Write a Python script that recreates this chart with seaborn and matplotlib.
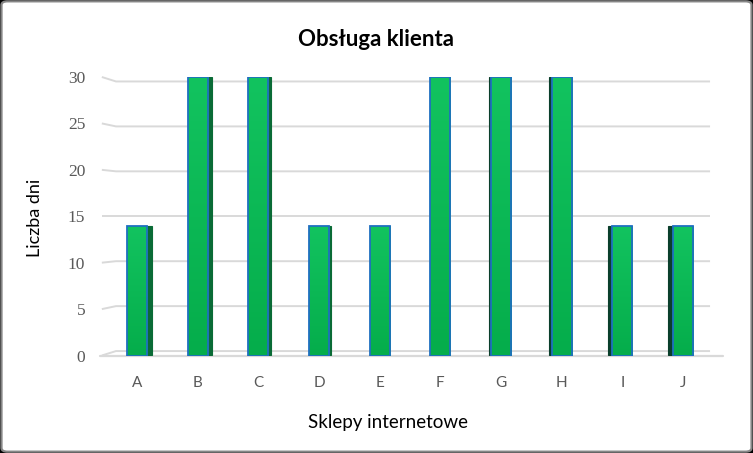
import matplotlib
matplotlib.use("Agg")
from matplotlib import pyplot as plt
from matplotlib.patches import FancyBboxPatch, Rectangle
import numpy as np
import seaborn as sns

# data
stores = ["A", "B", "C", "D", "E", "F", "G", "H", "I", "J"]
days = [14, 30, 30, 14, 14, 30, 30, 30, 14, 14]
y_ticks = [0, 5, 10, 15, 20, 25, 30]

title = "Obsługa klienta"
x_title = "Sklepy internetowe"
y_title = "Liczba dni"

sns.set_theme(style="white")
plt.rcParams["font.family"] = ["Lato", "DejaVu Sans"]

fig = plt.figure(figsize=(7.53, 4.53), dpi=100, facecolor="black")

# white chart area with a gray rounded frame
frame = FancyBboxPatch((0.002, 0.003), 0.996, 0.994, boxstyle="round,pad=0,rounding_size=0.008",
                       transform=fig.transFigure, facecolor="white", edgecolor="#868686",
                       linewidth=1.6, zorder=-5)
fig.patches.append(frame)

ax = fig.add_axes([0.1417, 0.2152, 0.8056, 0.6148])
ax.patch.set_alpha(0)

grid_col = "#D9D9D9"
trans = ax.get_yaxis_transform()

# back-wall gridlines with a short slanted piece on the left (3D look)
for v in y_ticks:
    back = 0.48 + v * 0.968
    ax.plot([-0.008, 0.0153, 0.9946], [v, back, back], transform=trans, clip_on=False,
            color=grid_col, lw=1.4, zorder=1, solid_capstyle="butt")
# floor line
ax.plot([-0.011, 1.016], [-0.05, -0.05], transform=trans, clip_on=False,
        color=grid_col, lw=1.6, zorder=1)

sns.barplot(x=stores, y=days, color="#0BB452", saturation=1, width=0.33,
            edgecolor="#1F6FC0", linewidth=1.3, ax=ax, zorder=3)

# gradient fill and dark side face for each bar
grad = np.linspace(0, 1, 100).reshape(-1, 1)
cmap = matplotlib.colors.LinearSegmentedColormap.from_list("g", ["#05AD4B", "#12C35F"])
mid = (len(stores) - 1) / 2
for i, p in enumerate(ax.patches[:len(stores)]):
    x0, w, h = p.get_x(), p.get_width(), p.get_height()
    im = ax.imshow(grad, extent=[x0, x0 + w, 0, h], origin="lower", cmap=cmap,
                   aspect="auto", zorder=3.1)
    im.set_clip_path(p)
    side = 0.018 * (mid - i)
    if side > 0:
        sx, sc = x0 + w - 0.03, "#0A6B36"
    else:
        sx, sc = x0 + side, "#0A3F2B"
    if abs(side) > 0.01:
        ax.add_patch(Rectangle((sx, 0.05), abs(side) + 0.03, h - 0.1, facecolor=sc,
                               edgecolor=sc, linewidth=0.8, zorder=2.8))
    p.set_zorder(3.2)
    p.set_facecolor("none")

ax.set_xlim(-0.5, 9.5)
ax.set_ylim(0, 30)
ax.set_yticks(y_ticks)
for s in ax.spines.values():
    s.set_visible(False)
ax.tick_params(axis="both", length=0, colors="#595959")
ax.tick_params(axis="y", pad=15.5)
ax.tick_params(axis="x", pad=15)
for t in ax.get_yticklabels():
    t.set_family(["Liberation Serif", "DejaVu Serif"])
    t.set_fontsize(12.5)
for t in ax.get_xticklabels():
    t.set_fontsize(11)

ax.set_xlabel(x_title, fontsize=13.5, color="black")
ax.xaxis.label.set_va("center")
ax.xaxis.set_label_coords(0.4637, -0.239)
ax.set_ylabel(y_title, fontsize=13, color="black")
ax.yaxis.label.set_va("center")
ax.yaxis.set_label_coords(-0.118, 0.494)

fig.text(0.5, 1 - 40 / 453, title, ha="center", va="center", fontsize=16,
         fontweight="bold", color="black")

fig.savefig("out.png", dpi=100, facecolor=fig.get_facecolor())
